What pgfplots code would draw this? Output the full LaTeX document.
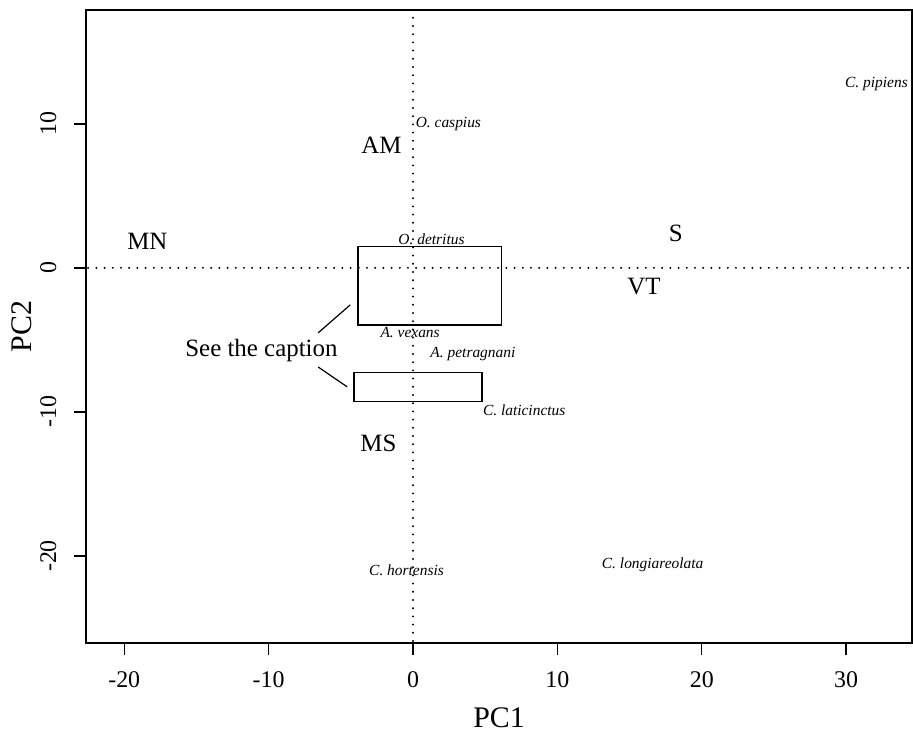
\documentclass[border=0pt]{standalone}
\usepackage{fontspec}
\setmainfont{Liberation Serif}
\usepackage{pgfplots}
\pgfplotsset{compat=1.18}
\begin{document}
\begin{tikzpicture}[
  big/.style={font=\fontsize{25}{30}\selectfont, inner sep=0pt, text height=16.5bp, text depth=0pt, anchor=center},
  sp/.style={font=\fontsize{15.5}{18}\selectfont\itshape, inner sep=0pt, text height=10.2bp, text depth=0pt, anchor=center},
]
\begin{axis}[name=ax, scale only axis, width=826bp, height=633bp,
  clip=false,
  xmin=-22.65, xmax=34.56, ymin=-26.04, ymax=17.9,
  axis line style={line width=1.3bp},
  xtick={-20,-10,0,10,20,30}, xticklabels={-20,-10,0,10,20,30},
  ytick={-20,-10,0,10}, yticklabels={-20,-10,0,10},
  xtick pos=bottom, ytick pos=left,
  tick align=outside, major tick length=12bp,
  every tick/.style={line width=1.4bp, black},
  ticklabel style={font=\fontsize{24}{28}\selectfont},
  xticklabel style={yshift=-13bp},
  yticklabel style={xshift=-14bp, rotate=90, anchor=south},
  xlabel={PC1}, ylabel={PC2},
  xlabel shift=13bp, ylabel shift=2bp,
  label style={font=\fontsize{30}{36}\selectfont},
]
% x tick marks (drawn explicitly to be sure they show)
\pgfplotsinvokeforeach{-20,-10,0,10,20,30}{
  \draw[line width=1.3bp, black] (axis cs:#1,-26.04) -- ++(0pt,-12bp);
}
% dotted reference lines
\addplot[black, line width=2.2bp, line cap=round, dash pattern=on 0pt off 8.2bp] coordinates {(-22.5,0) (34.4,0)};
\addplot[black, line width=2.2bp, line cap=round, dash pattern=on 0pt off 8.2bp] coordinates {(0,-25.9) (0,17.8)};
% boxes
\addplot[black, line width=1.7bp, line join=miter, line cap=rect] coordinates {(-3.82,1.48) (6.13,1.48) (6.13,-3.96) (-3.82,-3.96) (-3.82,1.48)};
\addplot[black, line width=1.7bp, line join=miter, line cap=rect] coordinates {(-4.08,-7.27) (4.77,-7.27) (4.77,-9.27) (-4.08,-9.27) (-4.08,-7.27)};
% pointer lines
\addplot[black, line width=1.2bp] coordinates {(-6.57,-4.51) (-4.35,-2.57)};
\addplot[black, line width=1.2bp] coordinates {(-6.57,-6.88) (-4.56,-8.26)};
% group labels
\node[big] at (axis cs:-18.4,1.85) {MN};
\node[big] at (axis cs:-2.18,8.5) {AM};
\node[big] at (axis cs:18.2,2.4) {S};
\node[big] at (axis cs:16.0,-1.3) {VT};
\node[big] at (axis cs:-2.4,-12.2) {MS};
\node[big] at (axis cs:-10.5,-5.55) {See the caption};
% species labels
\node[sp] at (axis cs:32.1,12.9) {C. pipiens};
\node[sp] at (axis cs:2.45,10.1) {O. caspius};
\node[sp] at (axis cs:1.28,1.95) {O. detritus};
\node[sp] at (axis cs:-0.2,-4.5) {A. vexans};
\node[sp] at (axis cs:4.15,-5.9) {A. petragnani};
\node[sp] at (axis cs:7.7,-9.9) {C. laticinctus};
\node[sp] at (axis cs:-0.45,-21.0) {C. hortensis};
\node[sp] at (axis cs:16.6,-20.5) {C. longiareolata};
\end{axis}
\pgfresetboundingbox
\path[use as bounding box] ([xshift=-86bp,yshift=-89bp]ax.south west) rectangle ([xshift=1bp,yshift=10bp]ax.north east);
\end{tikzpicture}
\end{document}
